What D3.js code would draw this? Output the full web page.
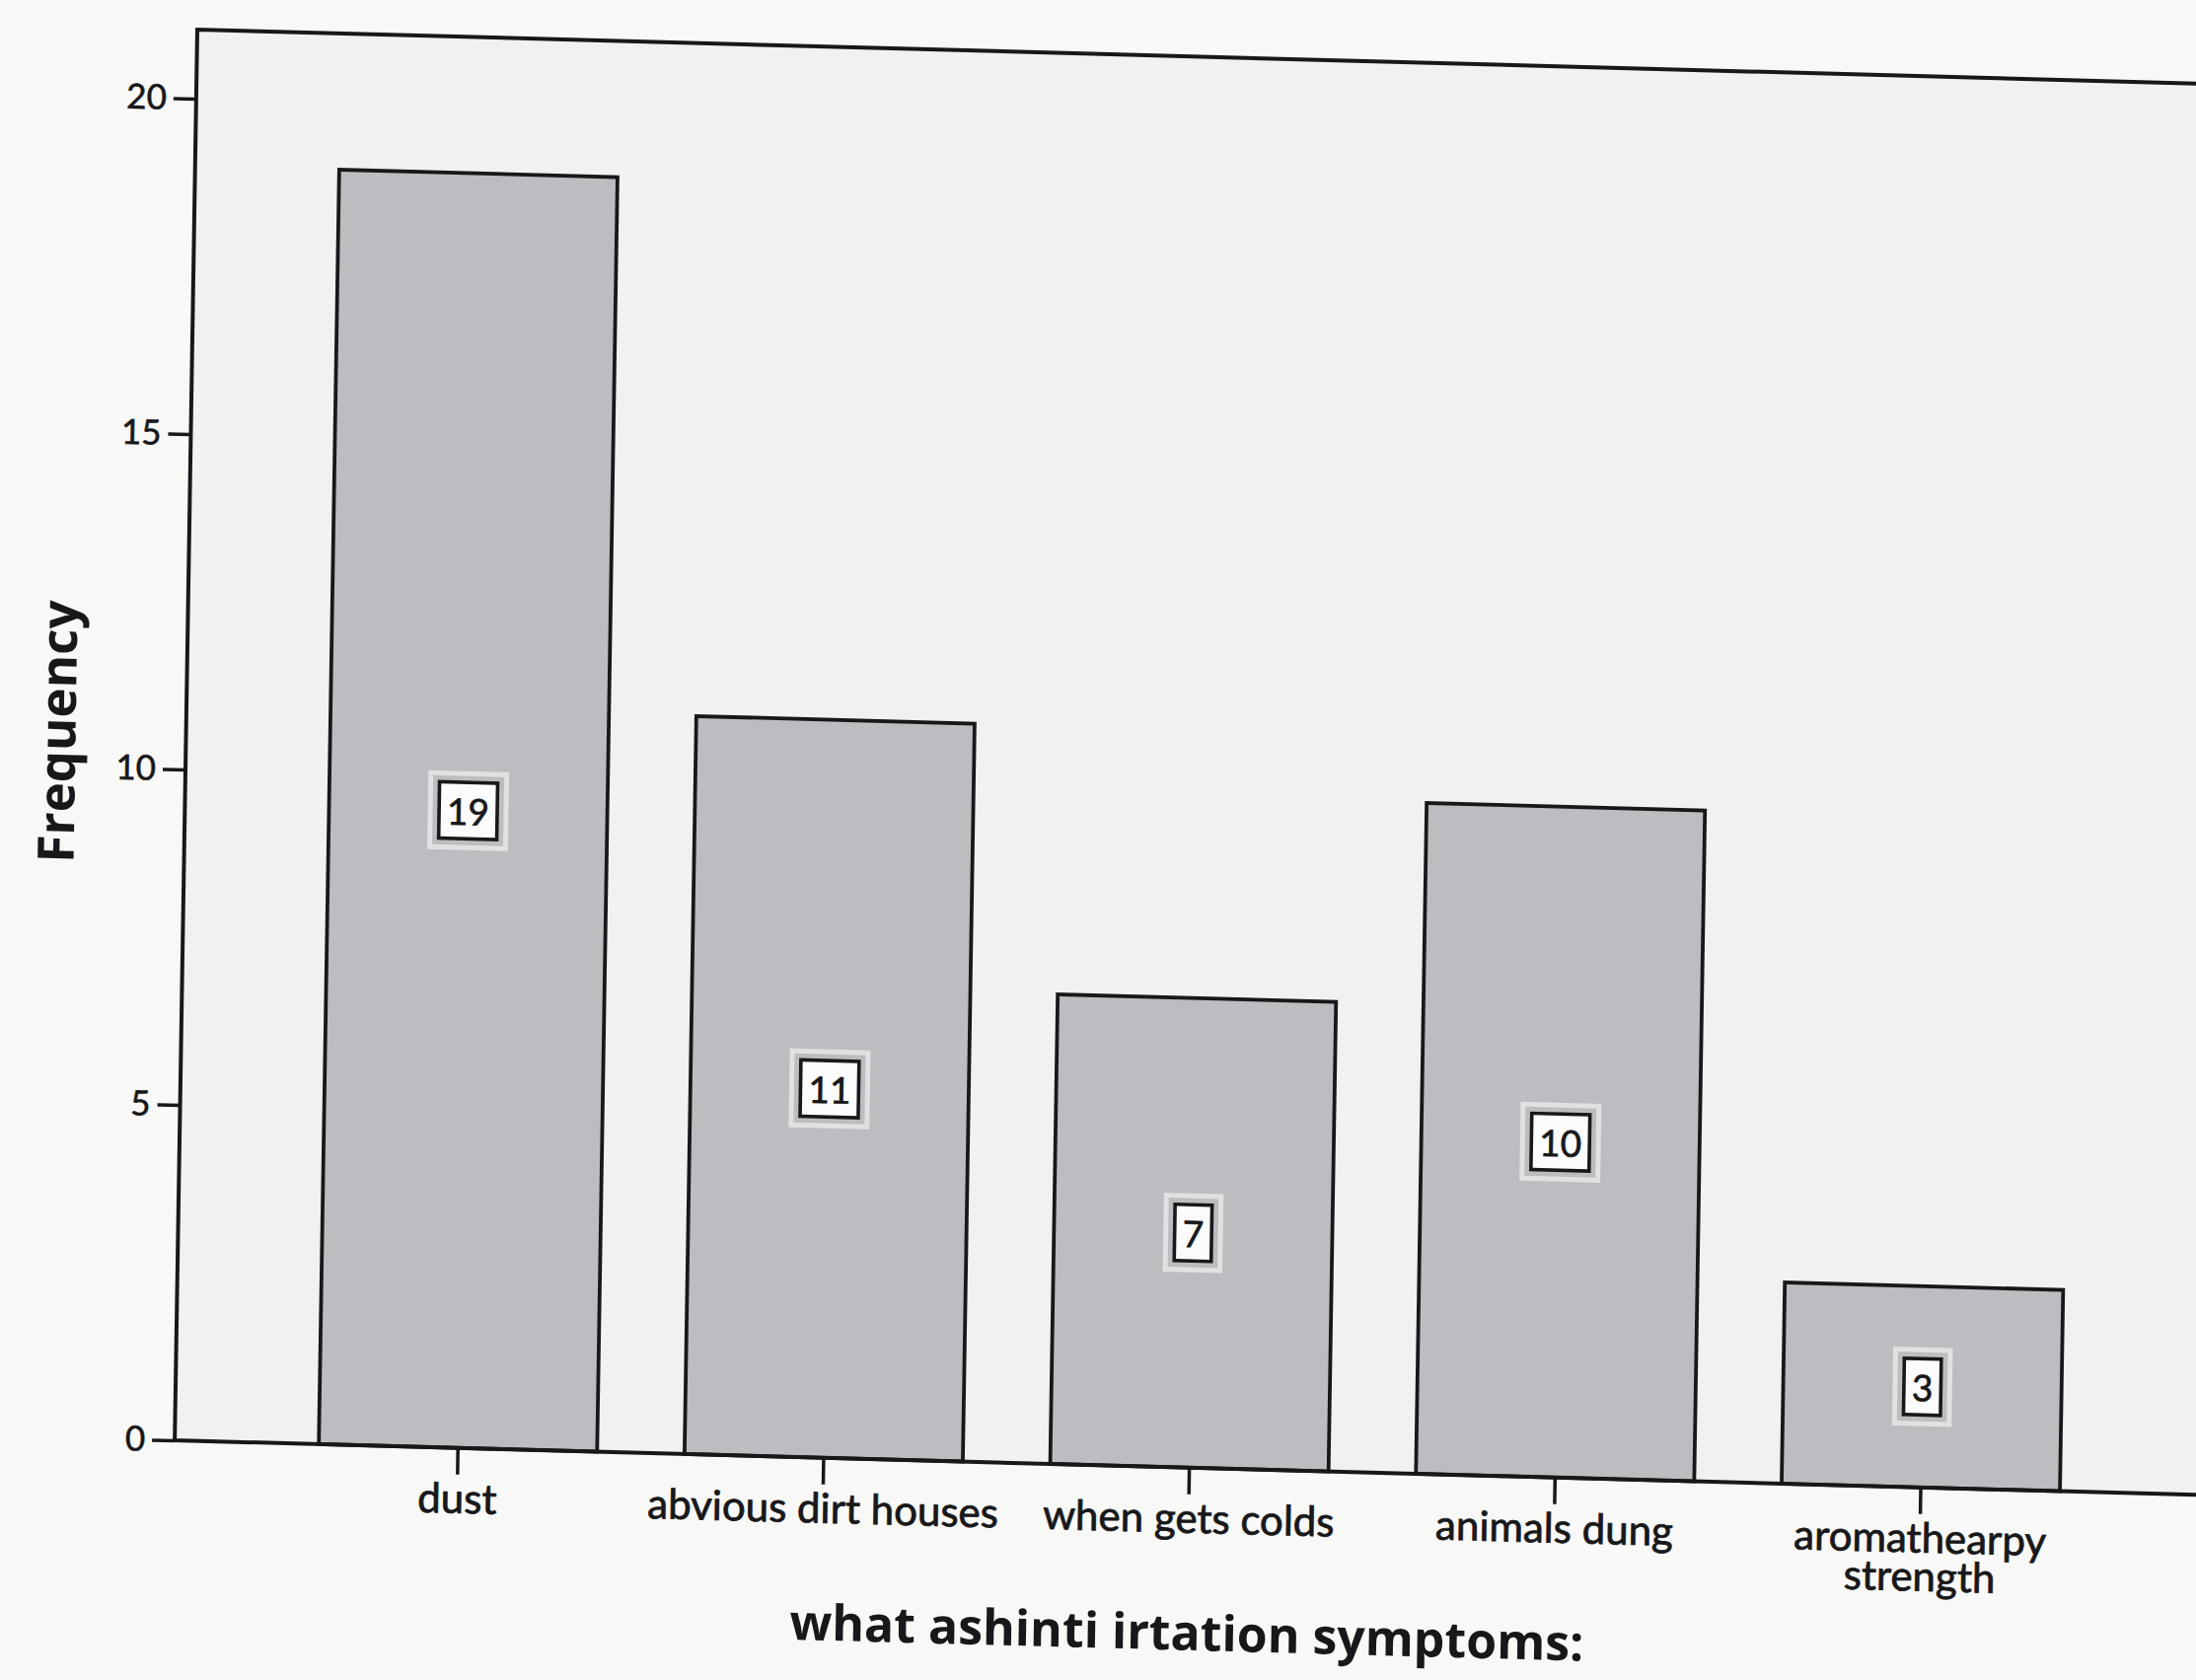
<!DOCTYPE html>
<html>
<head>
<meta charset="utf-8">
<script src="https://cdn.jsdelivr.net/npm/d3@7"></script>
<style>
  html, body { margin: 0; padding: 0; background: #f8f8f7; }
  svg { display: block; }
</style>
</head>
<body>
<svg id="chart" width="2226" height="1703"></svg>
<script>
// ---- data ----
const categories = ["dust", "abvious dirt houses", "when gets colds", "animals dung", "aromathearpy\nstrength"];
const frequencies = [19, 11, 7, 10, 3];
const yTickValues = [0, 5, 10, 15, 20];
const xAxisTitle = "what ashinti irtation symptoms:";
const yAxisTitle = "Frequency";

// ---- layout ----
const W = 2057, H = 1430;        // plot frame in chart coordinates
const svg = d3.select("#chart");

// scanned page is slightly skewed: apply affine transform
const g = svg.append("g")
  .attr("transform", "matrix(1,0.027,-0.016,1,200,30)");

const x = d3.scaleBand()
  .domain(categories)
  .range([0, W])
  .paddingInner(0.239)
  .paddingOuter(0.394);

const y = d3.scaleLinear()
  .domain([0, 20])
  .range([H, 70]);

const ink = "#18181a";
const fontFam = "Lato, 'Open Sans', sans-serif";
const titleFam = "'Open Sans', Lato, sans-serif";

// plot background
g.append("rect")
  .attr("x", 0).attr("y", 0).attr("width", W).attr("height", H)
  .attr("fill", "#f1f1f1");

// bars
g.selectAll("rect.bar")
  .data(categories)
  .join("rect")
  .attr("class", "bar")
  .attr("x", d => x(d))
  .attr("y", (d, i) => y(frequencies[i]))
  .attr("width", x.bandwidth())
  .attr("height", (d, i) => y(0) - y(frequencies[i]))
  .attr("fill", "#bdbdc1")
  .attr("stroke", ink)
  .attr("stroke-width", 3.8);

// frame: top, left, bottom
g.append("path")
  .attr("d", `M${W},0 H0 V${H} H${W}`)
  .attr("fill", "none")
  .attr("stroke", ink)
  .attr("stroke-width", 4);

// y axis
const yAxis = g.append("g")
  .call(d3.axisLeft(y).tickValues(yTickValues).tickSize(23).tickPadding(7).tickFormat(d3.format("d")));
yAxis.select(".domain").remove();
yAxis.selectAll(".tick line").attr("stroke", ink).attr("stroke-width", 3.5);
yAxis.selectAll(".tick text")
  .attr("fill", ink)
  .attr("stroke", ink).attr("stroke-width", 0.6)
  .style("font-family", fontFam)
  .style("font-size", "35px");

// x axis
const xAxis = g.append("g")
  .attr("transform", `translate(0,${H})`)
  .call(d3.axisBottom(x).tickSize(27).tickFormat(""));
xAxis.select(".domain").remove();
xAxis.selectAll(".tick line").attr("stroke", ink).attr("stroke-width", 3.5);

// x tick labels (multi-line)
const labels = g.append("g");
categories.forEach(c => {
  const lines = c.split("\n");
  const t = labels.append("text")
    .attr("x", x(c) + x.bandwidth() / 2)
    .attr("y", H + 50)
    .attr("text-anchor", "middle")
    .attr("dominant-baseline", "central")
    .attr("fill", ink)
    .attr("stroke", ink).attr("stroke-width", 0.8)
    .style("font-family", fontFam)
    .style("font-size", "42px");
  lines.forEach((ln, k) => {
    t.append("tspan")
      .attr("x", x(c) + x.bandwidth() / 2)
      .attr("dy", k === 0 ? 0 : 39)
      .text(ln);
  });
});

// value labels in boxes
categories.forEach((c, i) => {
  const cx = x(c) + x.bandwidth() / 2;
  const cy = y(frequencies[i] / 2);
  const lg = g.append("g");
  const halo = lg.append("rect");
  const box = lg.append("rect");
  const t = lg.append("text")
    .attr("x", cx).attr("y", cy)
    .attr("text-anchor", "middle")
    .attr("dominant-baseline", "central")
    .attr("fill", ink)
    .attr("stroke", ink).attr("stroke-width", 0.7)
    .style("font-family", fontFam)
    .style("font-size", "37px")
    .text(frequencies[i]);
  const bw = t.node().getComputedTextLength() + 16;
  const bh = 57;
  halo.attr("x", cx - bw / 2 - 9).attr("y", cy - bh / 2 - 9)
    .attr("width", bw + 18).attr("height", bh + 18)
    .attr("fill", "none").attr("stroke", "#ffffff").attr("stroke-opacity", 0.55)
    .attr("stroke-width", 5);
  box.attr("x", cx - bw / 2).attr("y", cy - bh / 2)
    .attr("width", bw).attr("height", bh)
    .attr("fill", "#fbfbfb").attr("stroke", ink).attr("stroke-width", 3.6);
});

// axis titles
g.append("text")
  .attr("x", W / 2)
  .attr("y", 1596)
  .attr("text-anchor", "middle")
  .attr("dominant-baseline", "central")
  .attr("fill", ink)
  .style("font-family", titleFam)
  .style("font-weight", "bold")
  .style("font-size", "50px")
  .text(xAxisTitle);

g.append("text")
  .attr("transform", `translate(-132,${H / 2}) rotate(-90)`)
  .attr("text-anchor", "middle")
  .attr("dominant-baseline", "central")
  .attr("fill", ink)
  .style("font-family", titleFam)
  .style("font-weight", "bold")
  .style("font-size", "51px")
  .text(yAxisTitle);
</script>
</body>
</html>
